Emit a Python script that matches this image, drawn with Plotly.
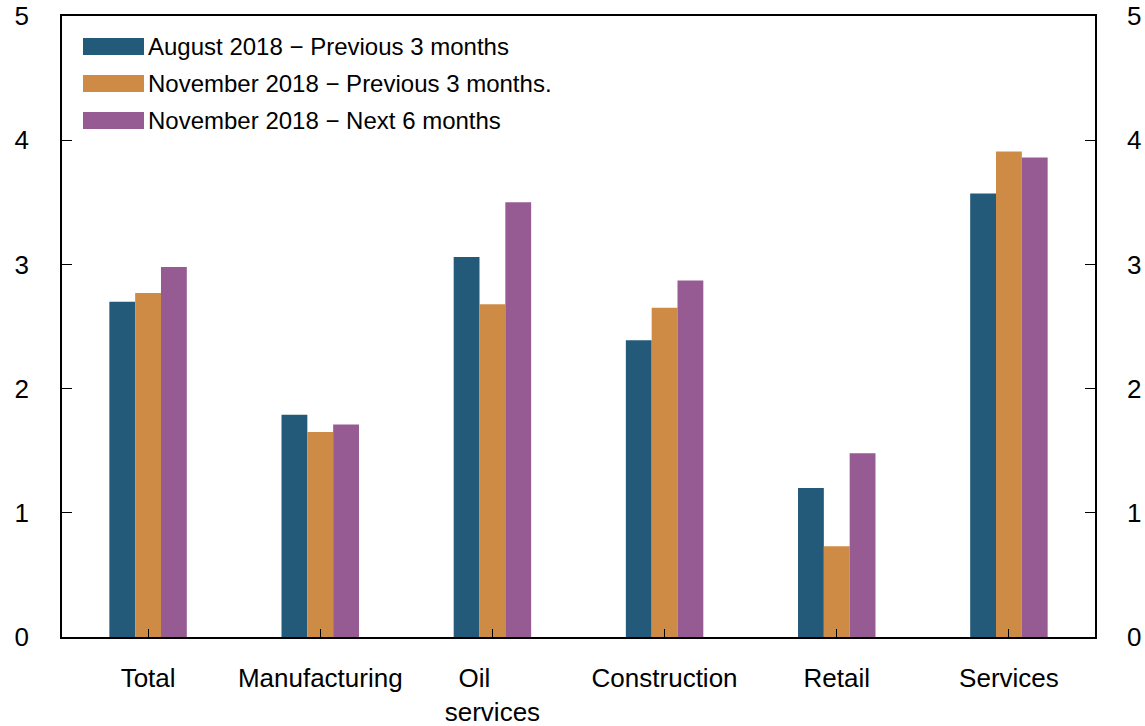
import plotly.graph_objects as go

categories = ["Total", "Manufacturing", "Oil&nbsp;&nbsp;&nbsp;&nbsp;&nbsp;<br>services", "Construction", "Retail", "Services"]
aug_prev3 = [2.70, 1.79, 3.06, 2.39, 1.20, 3.57]
nov_prev3 = [2.77, 1.65, 2.68, 2.65, 0.73, 3.91]
nov_next6 = [2.98, 1.71, 3.50, 2.87, 1.48, 3.86]
series_names = ["August 2018 \u2212 Previous 3 months",
                "November 2018 \u2212 Previous 3 months.",
                "November 2018 \u2212 Next 6 months"]
colors = ["#235A7A", "#CE8B45", "#975B94"]
yticks = [0, 1, 2, 3, 4, 5]

W, H = 1145, 726
ML, MR, MT, MB = 62, 50, 16, 89
PW, PH = W - ML - MR, H - MT - MB

def px2paper_x(px):
    return (px - ML) / PW

def px2paper_y(py):
    return (H - MB - py) / PH

fig = go.Figure()
for name, vals, c in zip(series_names, [aug_prev3, nov_prev3, nov_next6], colors):
    fig.add_trace(go.Bar(x=categories, y=vals, name=name, showlegend=False,
                         marker=dict(color=c, line=dict(width=0))))
# invisible trace for right axis
fig.add_trace(go.Scatter(x=categories, y=[None]*6, yaxis="y2", showlegend=False, hoverinfo="skip"))

font = dict(family="Liberation Sans, Arial, sans-serif", size=26, color="black")

# custom legend (wide swatches)
shapes = []
annotations = []
for i, (name, c) in enumerate(zip(series_names, colors)):
    top = 38 + i * 37
    shapes.append(dict(type="rect", xref="paper", yref="paper",
                       x0=px2paper_x(83), x1=px2paper_x(144),
                       y0=px2paper_y(top + 17), y1=px2paper_y(top),
                       fillcolor=c, line=dict(width=0)))
    annotations.append(dict(xref="paper", yref="paper", x=px2paper_x(146), y=px2paper_y(top + 8.5),
                            xanchor="left", yanchor="middle", text=name, showarrow=False,
                            font=dict(family="Liberation Sans, Arial, sans-serif", size=24, color="black")))

fig.update_layout(
    width=W, height=H,
    margin=dict(l=ML, r=MR, t=MT, b=MB, autoexpand=False),
    paper_bgcolor="white", plot_bgcolor="white",
    font=font,
    barmode="group", bargap=0.55, bargroupgap=0,
    showlegend=False,
    shapes=shapes, annotations=annotations,
    xaxis=dict(range=[-0.5, 5.5], showline=True, linecolor="black", linewidth=2, mirror=True,
               ticks="inside", ticklen=8, tickcolor="black", showgrid=False, zeroline=False,
               tickfont=font, automargin=False, ticklabelstandoff=17),
    yaxis=dict(range=[0, 5], tickvals=yticks, showline=True, linecolor="black", linewidth=1.5,
               ticks="inside", ticklen=10, tickcolor="black", showgrid=False, zeroline=False,
               tickfont=font, ticklabelstandoff=26, automargin=False),
    yaxis2=dict(range=[0, 5], tickvals=yticks, overlaying="y", side="right", showline=True,
                linecolor="black", linewidth=1.5, ticks="inside", ticklen=10, tickcolor="black",
                showgrid=False, zeroline=False, tickfont=font, ticklabelstandoff=25, automargin=False),
)
fig.write_html("out.html", config={"displayModeBar": False},
               post_script="document.body.style.margin='0';document.body.style.overflow='hidden';")
